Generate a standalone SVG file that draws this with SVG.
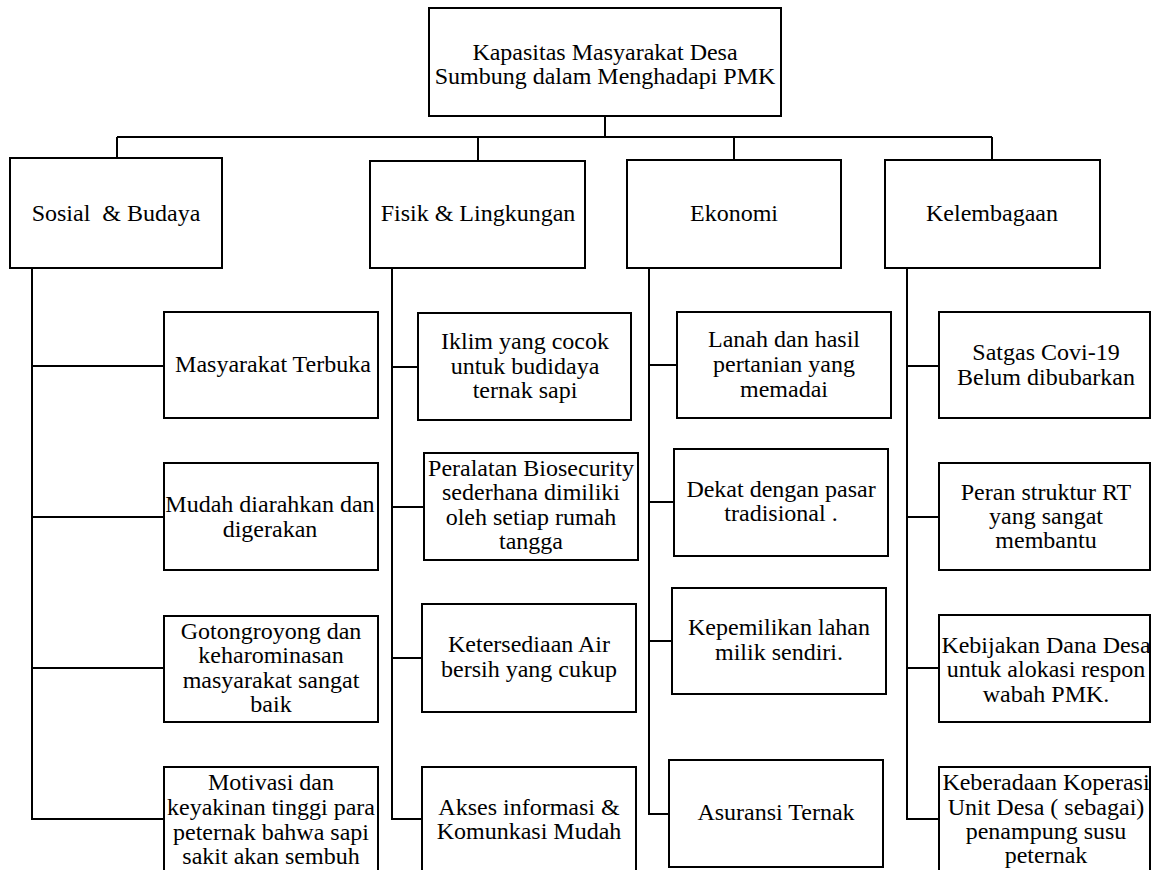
<svg xmlns="http://www.w3.org/2000/svg" width="1152" height="870" viewBox="0 0 1152 870">
  <style>
    .box { fill: #ffffff; stroke: #000000; stroke-width: 2; }
    .ln { fill: none; stroke: #000000; stroke-width: 2; }
    .t { font-family: 'Liberation Serif', 'DejaVu Serif', serif; font-size: 24px; fill: #000000; text-anchor: middle; }
  </style>
  <rect x="0" y="0" width="1152" height="870" fill="#ffffff"/>

  <!-- connectors -->
  <g id="connectors">
    <!-- root to categories -->
    <path class="ln" d="M605 116 V137 M117 137 H992 M117 137 V158 M478 137 V161 M734 137 V160 M992 137 V160"/>
    <!-- Sosial & Budaya branch -->
    <path class="ln" d="M32 268 V819 H164 M32 366 H164 M32 517 H164 M32 668 H164"/>
    <!-- Fisik & Lingkungan branch -->
    <path class="ln" d="M392 268 V819 H422 M392 367 H418 M392 507 H424 M392 658 H422"/>
    <!-- Ekonomi branch -->
    <path class="ln" d="M649 268 V814 H669 M649 365 H677 M649 502 H674 M649 641 H672"/>
    <!-- Kelembagaan branch -->
    <path class="ln" d="M907 268 V819 H939 M907 366 H939 M907 517 H939 M907 668 H939"/>
  </g>

  <g class="t" font-family="Liberation Serif, DejaVu Serif, serif">
  <!-- root -->
  <g id="root">
    <rect class="box" x="429" y="8" width="352" height="108"/>
    <text x="605" y="60">Kapasitas Masyarakat Desa</text>
    <text x="605" y="84">Sumbung dalam Menghadapi PMK</text>
  </g>

  <!-- categories -->
  <g id="cat-sosial">
    <rect class="box" x="10" y="158" width="212" height="110"/>
    <text x="116" y="221" xml:space="preserve">Sosial  &amp; Budaya</text>
  </g>
  <g id="cat-fisik">
    <rect class="box" x="370" y="161" width="215" height="107"/>
    <text x="478" y="221">Fisik &amp; Lingkungan</text>
  </g>
  <g id="cat-ekonomi">
    <rect class="box" x="627" y="160" width="214" height="108"/>
    <text x="734" y="221">Ekonomi</text>
  </g>
  <g id="cat-kelembagaan">
    <rect class="box" x="885" y="160" width="215" height="108"/>
    <text x="992" y="221">Kelembagaan</text>
  </g>

  <!-- Sosial & Budaya items -->
  <g id="sos-1">
    <rect class="box" x="164" y="312" width="214" height="106"/>
    <text x="273" y="372">Masyarakat Terbuka</text>
  </g>
  <g id="sos-2">
    <rect class="box" x="164" y="463" width="214" height="107"/>
    <text x="270" y="512">Mudah diarahkan dan</text>
    <text x="270" y="537">digerakan</text>
  </g>
  <g id="sos-3">
    <rect class="box" x="164" y="616" width="214" height="106"/>
    <text x="271" y="639">Gotongroyong dan</text>
    <text x="271" y="663">keharominasan</text>
    <text x="271" y="688">masyarakat sangat</text>
    <text x="271" y="712">baik</text>
  </g>
  <g id="sos-4">
    <rect class="box" x="164" y="767" width="214" height="110"/>
    <text x="271" y="790">Motivasi dan</text>
    <text x="271" y="815">keyakinan tinggi para</text>
    <text x="271" y="840">peternak bahwa sapi</text>
    <text x="271" y="864">sakit akan sembuh</text>
  </g>

  <!-- Fisik & Lingkungan items -->
  <g id="fis-1">
    <rect class="box" x="418" y="313" width="213" height="107"/>
    <text x="525" y="349">Iklim yang cocok</text>
    <text x="525" y="374">untuk budidaya</text>
    <text x="525" y="398">ternak sapi</text>
  </g>
  <g id="fis-2">
    <rect class="box" x="424" y="453" width="214" height="107"/>
    <text x="531" y="476">Peralatan Biosecurity</text>
    <text x="531" y="500">sederhana dimiliki</text>
    <text x="531" y="525">oleh setiap rumah</text>
    <text x="531" y="549">tangga</text>
  </g>
  <g id="fis-3">
    <rect class="box" x="422" y="604" width="214" height="108"/>
    <text x="529" y="652">Ketersediaan Air</text>
    <text x="529" y="677">bersih yang cukup</text>
  </g>
  <g id="fis-4">
    <rect class="box" x="422" y="767" width="214" height="110"/>
    <text x="529" y="815">Akses informasi &amp;</text>
    <text x="529" y="839">Komunkasi Mudah</text>
  </g>

  <!-- Ekonomi items -->
  <g id="eko-1">
    <rect class="box" x="677" y="312" width="214" height="106"/>
    <text x="784" y="347">Lanah dan hasil</text>
    <text x="784" y="372">pertanian yang</text>
    <text x="784" y="397">memadai</text>
  </g>
  <g id="eko-2">
    <rect class="box" x="674" y="449" width="214" height="107"/>
    <text x="781" y="497">Dekat dengan pasar</text>
    <text x="781" y="521">tradisional .</text>
  </g>
  <g id="eko-3">
    <rect class="box" x="672" y="588" width="214" height="106"/>
    <text x="779" y="635">Kepemilikan lahan</text>
    <text x="779" y="660">milik sendiri.</text>
  </g>
  <g id="eko-4">
    <rect class="box" x="669" y="760" width="214" height="107"/>
    <text x="776" y="820">Asuransi Ternak</text>
  </g>

  <!-- Kelembagaan items -->
  <g id="kel-1">
    <rect class="box" x="939" y="312" width="211" height="106"/>
    <text x="1046" y="360">Satgas Covi-19</text>
    <text x="1046" y="385">Belum dibubarkan</text>
  </g>
  <g id="kel-2">
    <rect class="box" x="939" y="463" width="211" height="107"/>
    <text x="1046" y="500">Peran struktur RT</text>
    <text x="1046" y="524">yang sangat</text>
    <text x="1046" y="548">membantu</text>
  </g>
  <g id="kel-3">
    <rect class="box" x="939" y="615" width="211" height="107"/>
    <text x="1046" y="653">Kebijakan Dana Desa</text>
    <text x="1046" y="677">untuk alokasi respon</text>
    <text x="1046" y="702">wabah PMK.</text>
  </g>
  <g id="kel-4">
    <rect class="box" x="939" y="767" width="211" height="110"/>
    <text x="1046" y="790">Keberadaan Koperasi</text>
    <text x="1046" y="815">Unit Desa ( sebagai)</text>
    <text x="1046" y="839">penampung susu</text>
    <text x="1046" y="863">peternak</text>
  </g>
  </g>
</svg>
